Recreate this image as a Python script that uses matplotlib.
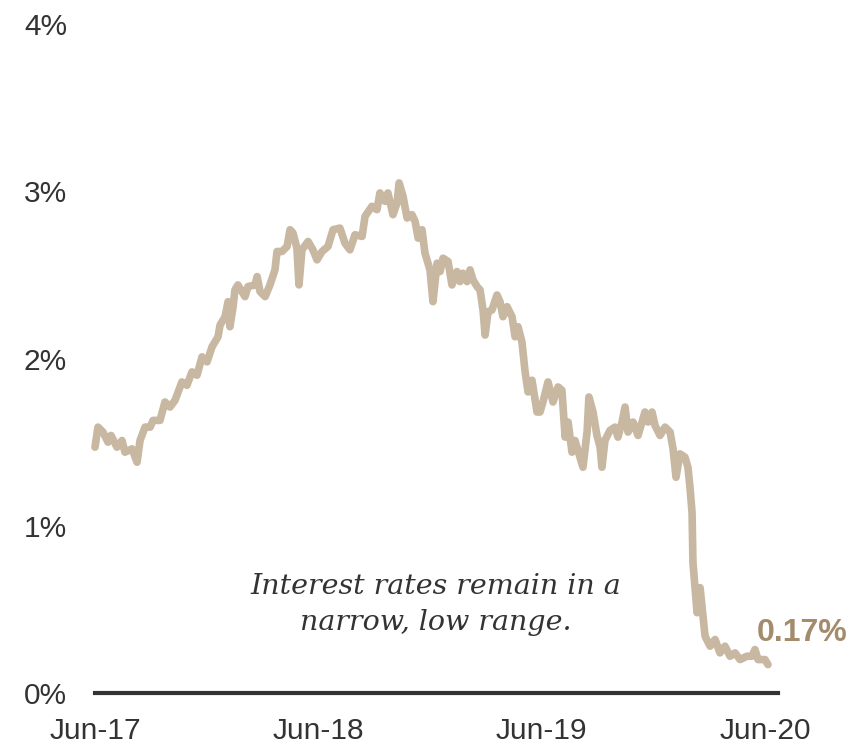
import numpy as np
import matplotlib.pyplot as plt

# 2-year yield
# months counted from Jun-2017, rate in %
months = [0.00, 0.16, 0.43, 0.70, 0.86, 1.18, 1.45, 1.61, 1.99, 2.26,
          2.42, 2.69, 2.96, 3.12, 3.49, 3.76, 4.03, 4.30, 4.67, 4.94,
          5.21, 5.48, 5.75, 6.02, 6.29, 6.61, 6.72, 6.99, 7.15, 7.25,
          7.42, 7.52, 7.68, 8.06, 8.22, 8.60, 8.71, 8.87, 9.14, 9.40,
          9.67, 9.78, 10.05, 10.32, 10.48, 10.64, 10.85, 10.96, 11.12, 11.45,
          11.71, 11.93, 12.20, 12.52, 12.79, 13.16, 13.43, 13.70, 13.97, 14.35,
          14.51, 14.88, 15.15, 15.31, 15.58, 15.74, 16.01, 16.23, 16.34, 16.55,
          16.77, 17.03, 17.20, 17.36, 17.57, 17.73, 18.00, 18.16, 18.38, 18.54,
          18.70, 18.97, 19.18, 19.45, 19.61, 19.77, 19.99, 20.15, 20.31, 20.53,
          20.69, 20.85, 20.96, 21.12, 21.33, 21.60, 21.76, 21.92, 22.14, 22.41,
          22.57, 22.73, 22.94, 23.11, 23.27, 23.48, 23.75, 23.91, 24.07, 24.34,
          24.61, 24.88, 25.09, 25.26, 25.42, 25.63, 25.79, 26.06, 26.22, 26.44,
          26.54, 26.76, 26.97, 27.14, 27.24, 27.40, 27.67, 27.94, 28.10, 28.32,
          28.48, 28.64, 28.91, 29.18, 29.39, 29.55, 29.72, 29.93, 30.09, 30.36,
          30.63, 30.90, 31.06, 31.22, 31.43, 31.70, 31.86, 31.97, 32.08, 32.13,
          32.35, 32.51, 32.67, 32.78, 33.05, 33.32, 33.58, 33.85, 34.12, 34.39,
          34.66, 35.03, 35.30, 35.46, 35.63, 36.00, 36.16]
rate = [1.47, 1.59, 1.56, 1.50, 1.54, 1.47, 1.51, 1.44, 1.46, 1.38,
        1.51, 1.59, 1.59, 1.63, 1.63, 1.74, 1.71, 1.75, 1.86, 1.84,
        1.92, 1.90, 2.01, 1.98, 2.07, 2.13, 2.20, 2.25, 2.34, 2.19,
        2.31, 2.41, 2.44, 2.37, 2.43, 2.44, 2.49, 2.40, 2.37, 2.44,
        2.53, 2.64, 2.64, 2.67, 2.77, 2.75, 2.66, 2.44, 2.65, 2.70,
        2.65, 2.59, 2.64, 2.67, 2.77, 2.78, 2.69, 2.65, 2.74, 2.73,
        2.85, 2.91, 2.89, 2.99, 2.94, 2.99, 2.86, 2.93, 3.05, 2.97,
        2.84, 2.86, 2.82, 2.72, 2.77, 2.63, 2.53, 2.34, 2.57, 2.52,
        2.60, 2.58, 2.44, 2.52, 2.46, 2.51, 2.46, 2.53, 2.47, 2.43,
        2.41, 2.29, 2.14, 2.28, 2.29, 2.38, 2.34, 2.25, 2.31, 2.25,
        2.13, 2.19, 2.10, 1.92, 1.80, 1.87, 1.68, 1.68, 1.74, 1.86,
        1.74, 1.83, 1.81, 1.53, 1.62, 1.44, 1.51, 1.41, 1.35, 1.56,
        1.77, 1.68, 1.54, 1.47, 1.35, 1.51, 1.57, 1.59, 1.53, 1.62,
        1.71, 1.56, 1.62, 1.54, 1.62, 1.68, 1.62, 1.68, 1.60, 1.54,
        1.59, 1.56, 1.46, 1.29, 1.43, 1.41, 1.35, 1.23, 1.08, 0.78,
        0.48, 0.63, 0.46, 0.34, 0.28, 0.32, 0.24, 0.28, 0.22, 0.24,
        0.20, 0.22, 0.22, 0.26, 0.20, 0.20, 0.17]

tick_pos = [0, 12, 24, 36]
tick_lab = ['Jun-17', 'Jun-18', 'Jun-19', 'Jun-20']
y_ticks = [0, 1, 2, 3, 4]
y_labs = ['0%', '1%', '2%', '3%', '4%']

plt.rcParams['font.family'] = ['Liberation Sans', 'DejaVu Sans']

fig = plt.figure(figsize=(8.66, 7.48), dpi=100)
ax = fig.add_axes([0.1097, 0.0735, 0.7887, 0.8944])

ax.plot(months, rate, color='#c8b8a2', lw=5.5, solid_joinstyle='round',
        solid_capstyle='round', clip_on=False)
ax.axhline(0, color='#333333', lw=3, clip_on=False)

ax.set_xlim(0, 36.7)
ax.set_ylim(0, 4)
ax.set_xticks(tick_pos)
ax.set_xticklabels(tick_lab)
ax.set_yticks(y_ticks)
ax.set_yticklabels(y_labs)
ax.tick_params(length=0, labelsize=21.5, labelcolor='#333333')
ax.tick_params(axis='y', pad=20)
ax.tick_params(axis='x', pad=17)
for s in ax.spines.values():
    s.set_visible(False)

ax.text(18.3, 0.53, 'Interest rates remain in a\nnarrow, low range.',
        ha='center', va='center', fontsize=20.5, style='italic',
        family='DejaVu Serif', color='#333333', linespacing=1.4)
ax.text(months[-1] - 0.6, rate[-1] + 0.19, '%.2f%%' % rate[-1],
        ha='left', va='center', fontsize=23, fontweight='bold', color='#a38c6c')

plt.savefig('out.png', dpi=100)
